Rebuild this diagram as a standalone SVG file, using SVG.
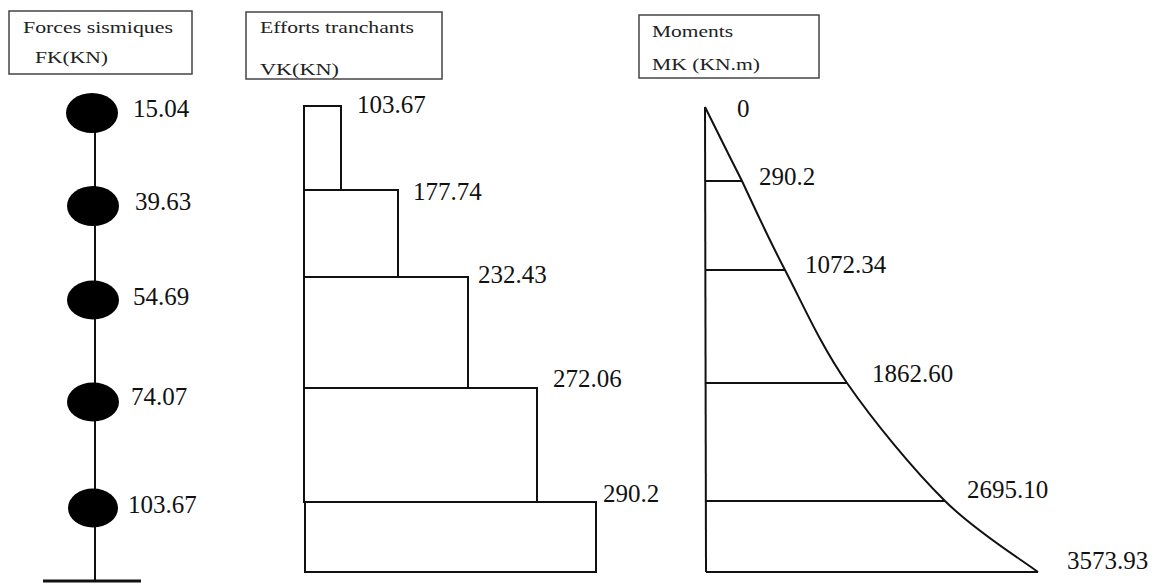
<svg xmlns="http://www.w3.org/2000/svg" width="1161" height="583" viewBox="0 0 1161 583">
<style>
.hdr{fill:none;stroke:#444;stroke-width:1.5}
.ht{font-family:'Liberation Serif','DejaVu Serif',serif;font-size:16px;fill:#222}
.v{font-family:'Liberation Serif','DejaVu Serif',serif;font-size:25px;fill:#111}
.ln{fill:none;stroke:#111;stroke-width:2}
</style>
<rect width="1161" height="583" fill="#fff"/>
<g id="header-forces">
<rect class="hdr" x="9" y="11" width="183" height="63"/>
<text class="ht" x="23" y="33" textLength="150" lengthAdjust="spacingAndGlyphs">Forces sismiques</text>
<text class="ht" x="35" y="63" textLength="73" lengthAdjust="spacingAndGlyphs">FK(KN)</text>
</g>
<g id="header-efforts">
<rect class="hdr" x="246" y="12" width="196" height="67"/>
<text class="ht" x="260" y="33" textLength="154" lengthAdjust="spacingAndGlyphs">Efforts tranchants</text>
<text class="ht" x="260" y="75" textLength="79" lengthAdjust="spacingAndGlyphs">VK(KN)</text>
</g>
<g id="header-moments">
<rect class="hdr" x="639" y="15" width="180" height="63"/>
<text class="ht" x="652" y="37" textLength="81" lengthAdjust="spacingAndGlyphs">Moments</text>
<text class="ht" x="652" y="70" textLength="108" lengthAdjust="spacingAndGlyphs">MK (KN.m)</text>
</g>
<g id="connectors">
<line class="ln" x1="95" y1="113" x2="95" y2="582"/>
<line x1="43" y1="581" x2="141" y2="581" stroke="#111" stroke-width="3"/>
</g>
<g id="forces">
<ellipse cx="92" cy="113" rx="26" ry="20" fill="#000"/>
<ellipse cx="93" cy="206" rx="26" ry="20" fill="#000"/>
<ellipse cx="93" cy="300" rx="26" ry="19.5" fill="#000"/>
<ellipse cx="93" cy="402" rx="26" ry="19.5" fill="#000"/>
<ellipse cx="93" cy="508" rx="25" ry="19.5" fill="#000"/>
<text class="v" x="133" y="117">15.04</text>
<text class="v" x="135" y="210">39.63</text>
<text class="v" x="133" y="305">54.69</text>
<text class="v" x="131" y="405">74.07</text>
<text class="v" x="128" y="513">103.67</text>
</g>
<g id="efforts">
<rect class="ln" x="304" y="106" width="37" height="84"/>
<rect class="ln" x="304" y="190" width="94" height="87"/>
<rect class="ln" x="304" y="277" width="164" height="111"/>
<rect class="ln" x="304" y="388" width="233" height="114"/>
<rect class="ln" x="305" y="502" width="291" height="70"/>
<text class="v" x="357" y="113">103.67</text>
<text class="v" x="413" y="200">177.74</text>
<text class="v" x="478" y="283">232.43</text>
<text class="v" x="553" y="387">272.06</text>
<text class="v" x="603" y="502">290.2</text>
</g>
<g id="moments">
<line class="ln" x1="705" y1="107" x2="706" y2="572"/>
<line class="ln" x1="706" y1="572" x2="1038" y2="572"/>
<path class="ln" d="M705,107 C711,119.5 728.8,154.8 742,181 C755.2,209.2 767.5,236.5 785,270 C802.5,303.5 820.3,344.5 847,383 C873.7,421.5 913.2,469.5 945,501 C976.8,532.5 1022.5,560.2 1038,572"/>
<line class="ln" x1="705" y1="181" x2="742" y2="181"/>
<line class="ln" x1="705" y1="270" x2="785" y2="270"/>
<line class="ln" x1="706" y1="383" x2="847" y2="383"/>
<line class="ln" x1="706" y1="501" x2="945" y2="501"/>
<text class="v" x="737" y="117">0</text>
<text class="v" x="759" y="185">290.2</text>
<text class="v" x="805" y="273">1072.34</text>
<text class="v" x="872" y="382">1862.60</text>
<text class="v" x="967" y="498">2695.10</text>
<text class="v" x="1067" y="569">3573.93</text>
</g>
</svg>
